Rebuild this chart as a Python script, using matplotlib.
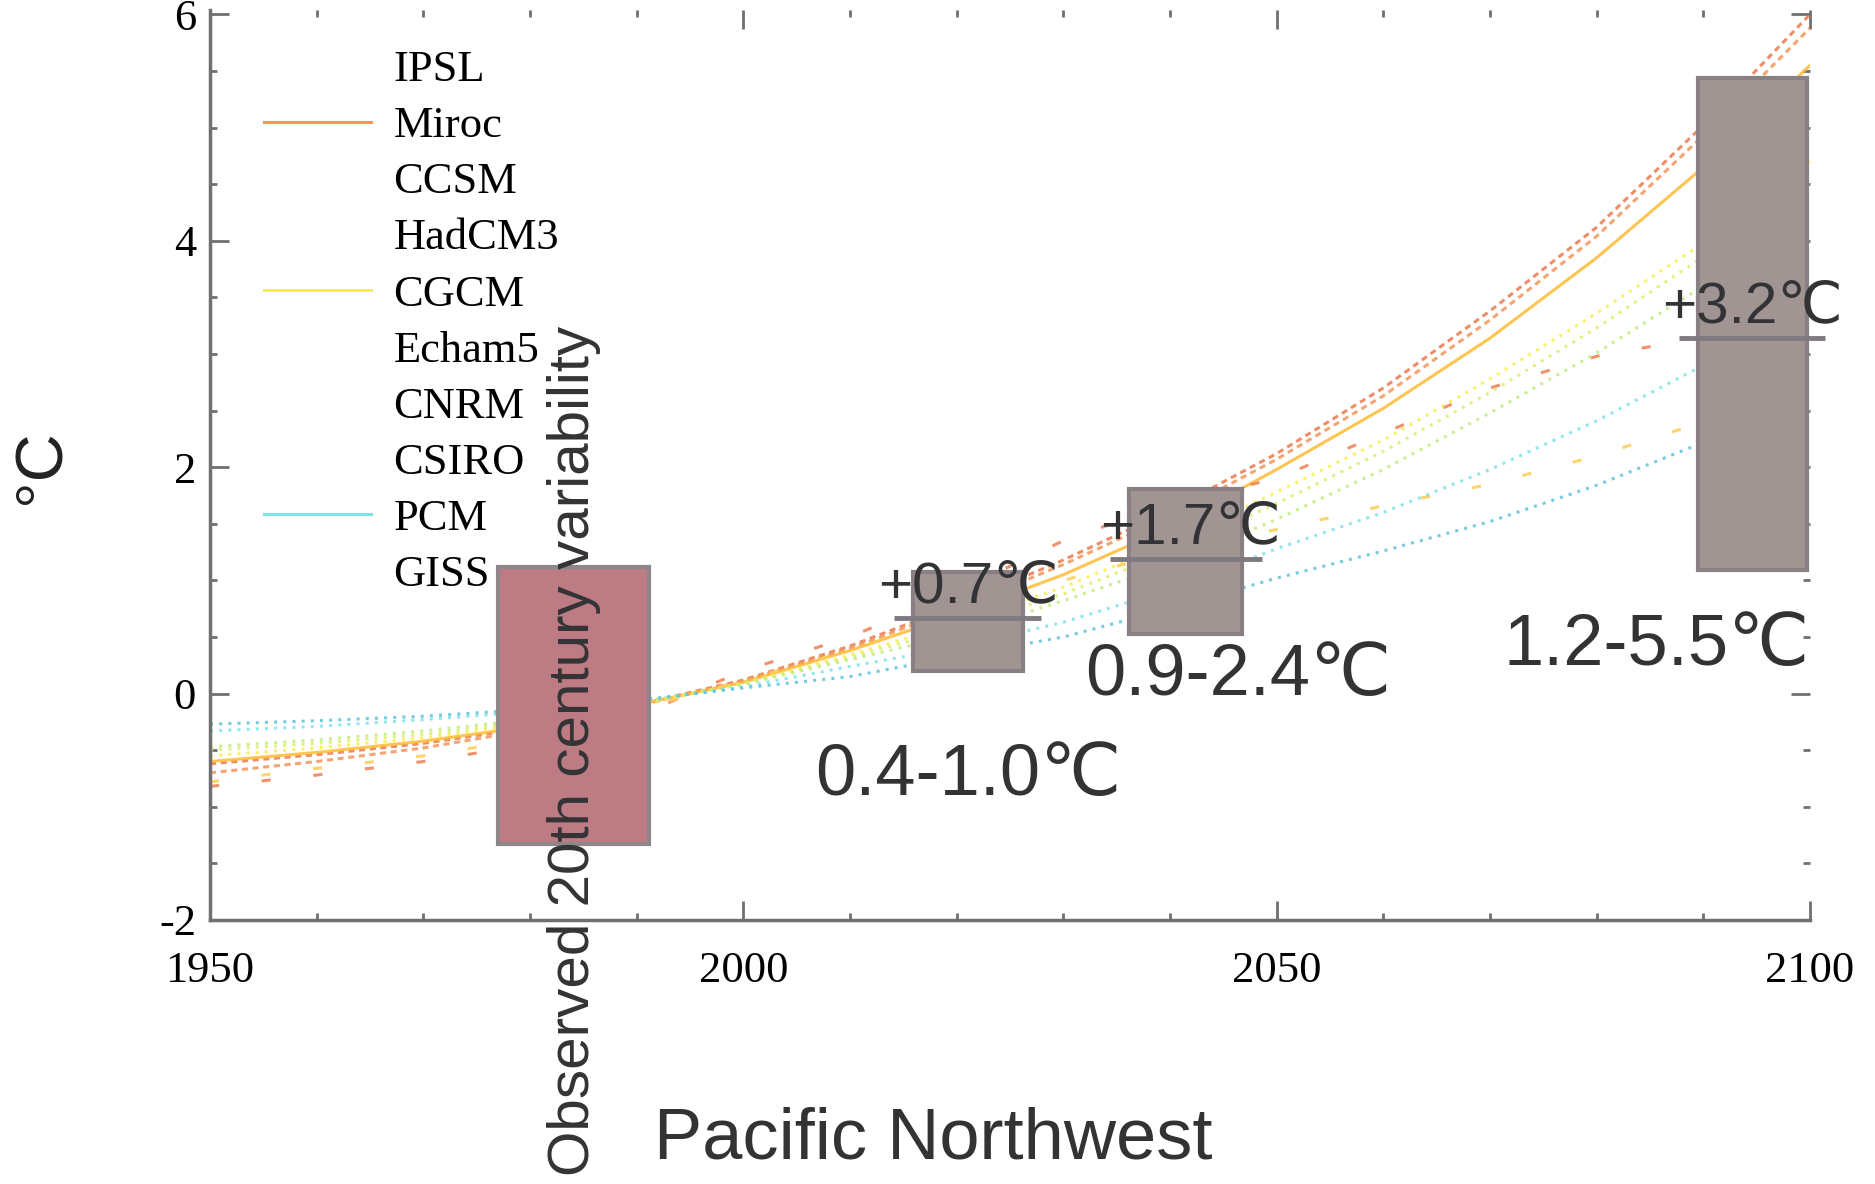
import matplotlib
matplotlib.use("Agg")
import matplotlib.pyplot as plt
from matplotlib.lines import Line2D
from matplotlib.patches import Rectangle
from matplotlib.ticker import MultipleLocator

plt.rcParams['axes.unicode_minus'] = False

# decadal values (deg C anomaly)
years = [1950, 1960, 1970, 1980, 1990, 2000, 2010, 2020, 2030, 2040, 2050, 2060, 2070, 2080, 2090, 2100]
ipsl   = [-0.62, -0.54, -0.44, -0.30, -0.10, 0.12, 0.42, 0.78, 1.18, 1.62, 2.12, 2.70, 3.38, 4.12, 5.02, 6.00]
miroc  = [-0.70, -0.60, -0.48, -0.32, -0.11, 0.11, 0.40, 0.75, 1.14, 1.57, 2.07, 2.63, 3.30, 4.04, 4.93, 5.88]
ccsm   = [-0.60, -0.52, -0.42, -0.29, -0.10, 0.10, 0.38, 0.70, 1.05, 1.47, 1.98, 2.52, 3.14, 3.85, 4.65, 5.55]
hadcm3 = [-0.82, -0.72, -0.60, -0.45, -0.20, 0.20, 0.50, 0.90, 1.35, 1.68, 1.90, 2.30, 2.70, 2.98, 3.15, 3.30]
cgcm   = [-0.55, -0.48, -0.39, -0.27, -0.10, 0.09, 0.34, 0.62, 0.94, 1.33, 1.78, 2.24, 2.78, 3.36, 3.98, 4.70]
echam5 = [-0.50, -0.44, -0.36, -0.25, -0.09, 0.09, 0.32, 0.58, 0.88, 1.25, 1.68, 2.14, 2.66, 3.23, 3.86, 4.55]
cnrm   = [-0.47, -0.41, -0.33, -0.23, -0.08, 0.08, 0.30, 0.52, 0.82, 1.14, 1.54, 1.98, 2.48, 3.01, 3.60, 4.25]
csiro  = [-0.78, -0.66, -0.55, -0.40, -0.15, 0.12, 0.38, 0.70, 1.00, 1.25, 1.45, 1.66, 1.85, 2.10, 2.40, 2.70]
pcm    = [-0.33, -0.29, -0.23, -0.16, -0.07, 0.06, 0.24, 0.41, 0.63, 0.92, 1.28, 1.60, 1.98, 2.41, 2.90, 3.40]
giss   = [-0.27, -0.24, -0.20, -0.14, -0.06, 0.05, 0.15, 0.33, 0.50, 0.75, 1.02, 1.26, 1.52, 1.84, 2.22, 2.65]

models = ['IPSL', 'Miroc', 'CCSM', 'HadCM3', 'CGCM', 'Echam5', 'CNRM', 'CSIRO', 'PCM', 'GISS']
series = [ipsl, miroc, ccsm, hadcm3, cgcm, echam5, cnrm, csiro, pcm, giss]
colors = ['#ea7a50', '#f4955a', '#ffbb35', '#ee7f52', '#f8ef4a', '#dcef6a', '#c2ec80',
          '#ffcc55', '#7fe3ea', '#5ec2dc']
styles = [(0, (2, 1.5)), (0, (2, 1.5)), '-', (0, (3, 14)), (0, (1, 2)), (0, (1, 2)),
          (0, (1, 2)), (0, (3, 14)), (0, (1, 2)), (0, (1, 2))]
in_legend = [False, True, False, False, True, False, False, False, True, False]

# observed variability and projected ranges
obs_period = [1977.0, 1991.2]
obs_range = [-1.33, 1.12]
periods = [[2015.9, 2026.2], [2036.2, 2046.8], [2089.5, 2099.7]]
ranges = [[0.20, 1.07], [0.53, 1.81], [1.09, 5.44]]
means = [0.67, 1.19, 3.14]
mean_labels = ['+0.7℃', '+1.7℃', '+3.2℃']
range_labels = ['0.4-1.0℃', '0.9-2.4℃', '1.2-5.5℃']

fig = plt.figure(figsize=(18.75, 11.84), dpi=100)
ax = fig.add_axes([0.112, 0.223, 0.8533, 0.7686])

for vals, c, ls in zip(series, colors, styles):
    ax.plot(years, vals, color=c, ls=ls, lw=2.2, alpha=0.85, zorder=2)

# observed box
ax.add_patch(Rectangle((obs_period[0], obs_range[0]), obs_period[1] - obs_period[0],
                       obs_range[1] - obs_range[0], facecolor='#bd7b84',
                       edgecolor='#8e8789', lw=3, zorder=4))

sans = ['Liberation Sans', 'DejaVu Sans']
txtc = '#333336'
for (p0, p1), (r0, r1), m in zip(periods, ranges, means):
    ax.add_patch(Rectangle((p0, r0), p1 - p0, r1 - r0, facecolor='#a09593',
                           edgecolor='#888083', lw=3, zorder=4))
    pad = (p1 - p0) * 0.17
    ax.plot([p0 - pad, p1 + pad], [m, m], color='#7f7a80', lw=3.5, zorder=5,
            solid_capstyle='butt', clip_on=False)

mean_pos = [(2021.1, 0.805), (2041.9, 1.327), (2094.6, 3.28)]
range_pos = [(2021.1, -0.90), (2046.4, -0.01), (2085.6, 0.25)]
for (x, y), s in zip(mean_pos, mean_labels):
    ax.text(x, y, s, ha='center', va='baseline', fontsize=42, color=txtc, family=sans, zorder=6)
for (x, y), s in zip(range_pos, range_labels):
    ax.text(x, y, s, ha='center', va='baseline', fontsize=52, color=txtc, family=sans, zorder=6)

fig.text(0.306, 0.366, 'Observed 20th century variability', rotation=90, ha='center',
         va='center', fontsize=42, color=txtc, family=sans, zorder=7)
fig.text(0.4976, 0.037, 'Pacific Northwest', ha='center', va='center', fontsize=52,
         color=txtc, family=sans)
fig.text(0.0224, 0.606, '°C', rotation=90, ha='center', va='center', fontsize=48,
         color='#222222', family=sans)

ax.set_xlim(1950, 2100)
ax.set_ylim(-2, 6.04)
ax.xaxis.set_major_locator(MultipleLocator(50))
ax.xaxis.set_minor_locator(MultipleLocator(10))
ax.yaxis.set_major_locator(MultipleLocator(2))
ax.yaxis.set_minor_locator(MultipleLocator(0.5))
ax.tick_params(which='both', direction='in', top=True, right=True, color='#707070', width=2)
ax.tick_params(which='major', length=14)
ax.tick_params(which='minor', length=5)
ax.tick_params(axis='x', pad=22)
ax.tick_params(axis='y', pad=10)
for lab in ax.get_xticklabels() + ax.get_yticklabels():
    lab.set_family('Liberation Serif')
    lab.set_fontsize(32)
for side in ['top', 'right']:
    ax.spines[side].set_visible(False)
for side in ['left', 'bottom']:
    ax.spines[side].set_color('#707070')
    ax.spines[side].set_linewidth(2.5)

handles = [Line2D([], [], color=c if show else 'none', lw=2.2)
           for c, show in zip(colors, in_legend)]
ax.legend(handles, models, loc='upper left', bbox_to_anchor=(0.034, 0.956), frameon=False,
          prop={'family': 'Liberation Serif', 'size': 32}, handlelength=2.4,
          handletextpad=0.5, labelspacing=0.36, borderpad=0, borderaxespad=0)

fig.savefig('out.png', dpi=100)
